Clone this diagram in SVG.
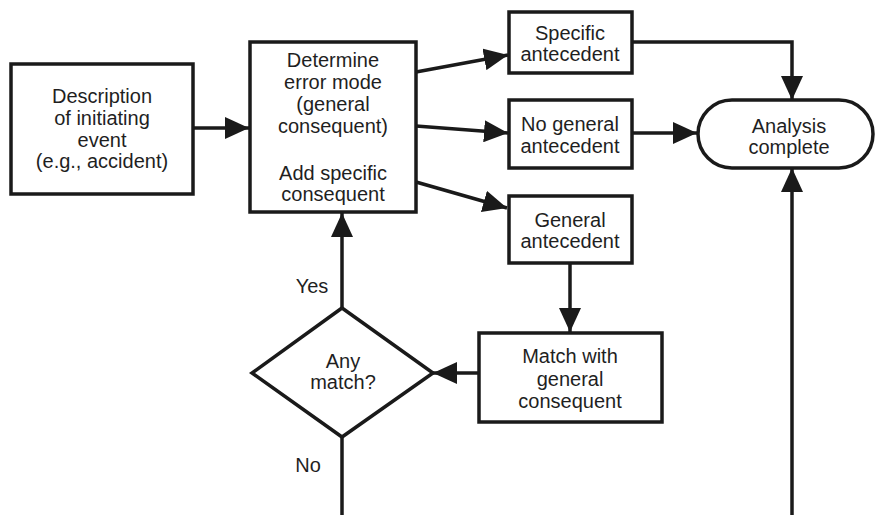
<svg xmlns="http://www.w3.org/2000/svg" width="876" height="515" viewBox="0 0 876 515">
<defs>
<style>
.box{fill:#fff;stroke:#1a1a1a;stroke-width:3.5;stroke-linejoin:miter}
.ln{fill:none;stroke:#1a1a1a;stroke-width:3.5}
text{font-family:"Liberation Sans",Arial,Helvetica,sans-serif;font-size:20px;fill:#1f1f1f;text-anchor:middle}
</style>
<marker id="ah" markerUnits="userSpaceOnUse" markerWidth="26" markerHeight="22" refX="24" refY="11" orient="auto">
<path d="M0,0 L24,11 L0,22 z" fill="#1a1a1a"/>
</marker>
</defs>
<rect width="876" height="515" fill="#fff"/>
<g id="connectors">
<line class="ln" x1="193" y1="128" x2="249" y2="128" marker-end="url(#ah)"/>
<line class="ln" x1="416" y1="72" x2="508" y2="55" marker-end="url(#ah)"/>
<line class="ln" x1="416" y1="126" x2="508" y2="133" marker-end="url(#ah)"/>
<line class="ln" x1="416" y1="182" x2="507" y2="208" marker-end="url(#ah)"/>
<polyline class="ln" points="632,42 792,42 792,100" marker-end="url(#ah)"/>
<line class="ln" x1="632" y1="133" x2="697" y2="133" marker-end="url(#ah)"/>
<line class="ln" x1="792" y1="515" x2="792" y2="168" marker-end="url(#ah)"/>
<line class="ln" x1="570" y1="263" x2="570" y2="332" marker-end="url(#ah)"/>
<line class="ln" x1="479" y1="373" x2="433" y2="373" marker-end="url(#ah)"/>
<line class="ln" x1="342" y1="308" x2="342" y2="213" marker-end="url(#ah)"/>
<line class="ln" x1="342" y1="437" x2="342" y2="515"/>
<text x="312" y="293">Yes</text>
<text x="308" y="472">No</text>
</g>
<g id="n_description">
<rect class="box" x="11" y="64" width="182" height="130"/>
<text x="102" y="103">Description</text>
<text x="102" y="125">of initiating</text>
<text x="102" y="147">event</text>
<text x="102" y="168">(e.g., accident)</text>
</g>
<g id="n_determine">
<rect class="box" x="250" y="42" width="166" height="170"/>
<text x="333" y="67">Determine</text>
<text x="333" y="89">error mode</text>
<text x="333" y="111">(general</text>
<text x="333" y="133">consequent)</text>
<text x="333" y="180">Add specific</text>
<text x="333" y="201">consequent</text>
</g>
<g id="n_specific">
<rect class="box" x="509" y="12" width="123" height="61"/>
<text x="570" y="40">Specific</text>
<text x="570" y="61">antecedent</text>
</g>
<g id="n_nogeneral">
<rect class="box" x="509" y="100" width="123" height="68"/>
<text x="570" y="131">No general</text>
<text x="570" y="153">antecedent</text>
</g>
<g id="n_general">
<rect class="box" x="509" y="196" width="123" height="67"/>
<text x="570" y="227">General</text>
<text x="570" y="248">antecedent</text>
</g>
<g id="n_analysis">
<rect class="box" x="698" y="100" width="175" height="68" rx="34" ry="34"/>
<text x="789" y="133">Analysis</text>
<text x="789" y="154">complete</text>
</g>
<g id="n_match">
<rect class="box" x="479" y="333" width="183" height="89"/>
<text x="570" y="363">Match with</text>
<text x="570" y="386">general</text>
<text x="570" y="408">consequent</text>
</g>
<g id="n_any">
<polygon class="box" points="342,308 433,373 342,437 252,373"/>
<text x="343" y="368">Any</text>
<text x="343" y="389">match?</text>
</g>
</svg>
